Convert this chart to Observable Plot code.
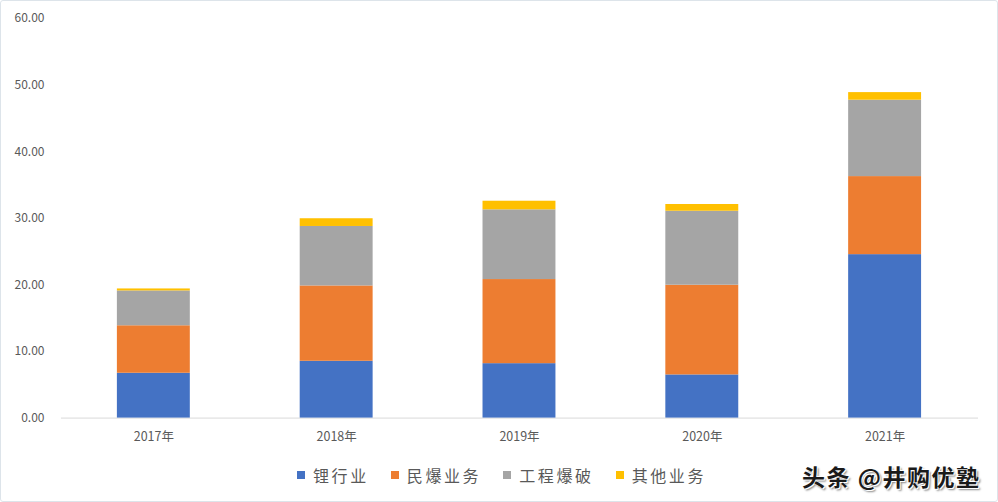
<!DOCTYPE html>
<html>
<head>
<meta charset="utf-8">
<script src="https://cdn.jsdelivr.net/npm/d3@7"></script>
<script src="https://cdn.jsdelivr.net/npm/@observablehq/plot@0.6"></script>
<style>
  html, body { margin: 0; padding: 0; background: #fff; }
  #wrap { position: relative; width: 998px; height: 502px; box-sizing: border-box; border: 1px solid #dde4ea; border-radius: 3px; overflow: hidden; font-family: "Noto Sans CJK SC", "Noto Sans", sans-serif; }
  #chart { position: absolute; left: -1px; top: -1px; }
  #chart svg g[aria-label="x-axis tick label"] text { font-size: 12.5px; }
  #legend { position: absolute; left: 296px; top: 462px; display: flex; align-items: center; font-size: 16px; color: #595959; letter-spacing: 2.6px; }
  #legend .item { display: flex; align-items: center; margin-right: 22px; }
  #legend .sw { width: 8px; height: 8px; margin-right: 8px; }
  #wm { position: absolute; left: 801px; top: 458px; font-size: 23px; font-weight: bold; color: #1a1a1a; text-shadow: 1px 1px 0 #fff, -1px -1px 0 #fff, 2px 2px 2px #888; letter-spacing: 1.5px; }
</style>
</head>
<body>
<div id="wrap">
  <div id="chart"></div>
  <div id="legend"></div>
  <div id="wm">头条 @井购优塾</div>
</div>
<script>
const years = ["2017年", "2018年", "2019年", "2020年", "2021年"];
const seriesNames = ["锂行业", "民爆业务", "工程爆破", "其他业务"];
const seriesColors = ["#4472C4", "#ED7D31", "#A5A5A5", "#FFC000"];
const lithium   = [6.73, 8.53, 8.17, 6.48, 24.54];
const explosive = [7.13, 11.31, 12.63, 13.47, 11.72];
const blasting  = [5.23, 8.93, 10.47, 11.11, 11.47];
const other     = [0.30, 1.16, 1.29, 1.01, 1.14];
const yTicks = [0, 10, 20, 30, 40, 50, 60];

const seriesValues = [lithium, explosive, blasting, other];
const data = [];
seriesNames.forEach((s, si) => {
  years.forEach((y, yi) => data.push({year: y, series: s, value: seriesValues[si][yi]}));
});

const chart = Plot.plot({
  width: 998,
  height: 450,
  marginLeft: 61,
  marginRight: 19,
  marginTop: 18,
  marginBottom: 32,
  style: { fontFamily: '"Noto Sans CJK SC", "Noto Sans", sans-serif', fontSize: "12px", color: "#595959", background: "transparent" },
  x: { domain: years, paddingInner: 0.6, paddingOuter: 0.3, label: null, tickSize: 0, tickPadding: 14 },
  y: { domain: [0, 60], ticks: yTicks, tickFormat: d => d.toFixed(2), label: null, tickSize: 0, tickPadding: 17 },
  color: { domain: seriesNames, range: seriesColors },
  marks: [
    Plot.ruleY([0], { stroke: "#d9d9d9", strokeWidth: 1 }),
    Plot.barY(data, Plot.stackY({ x: "year", y: "value", fill: "series", order: seriesNames }))
  ]
});
document.getElementById("chart").appendChild(chart);

const legend = document.getElementById("legend");
seriesNames.forEach((s, i) => {
  const item = document.createElement("div");
  item.className = "item";
  const sw = document.createElement("span");
  sw.className = "sw";
  sw.style.background = seriesColors[i];
  const t = document.createElement("span");
  t.textContent = s;
  item.appendChild(sw);
  item.appendChild(t);
  legend.appendChild(item);
});
</script>
</body>
</html>
